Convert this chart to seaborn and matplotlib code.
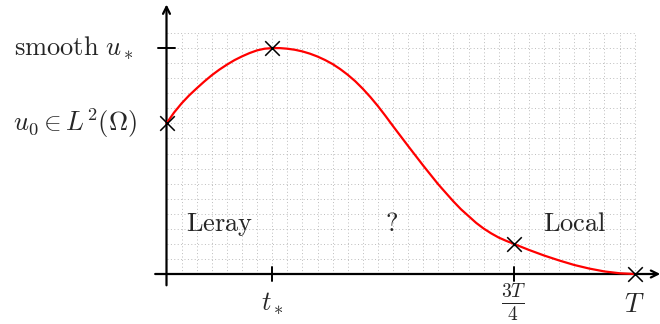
import matplotlib
matplotlib.use("Agg")
import matplotlib.pyplot as plt
import numpy as np
import pandas as pd
import seaborn as sns

sns.set_style("white")
plt.rcParams["mathtext.fontset"] = "cm"
plt.rcParams["font.family"] = ["DejaVu Serif"]

# ---------------------------------------------------------------------------
# Data (grid units)
# ---------------------------------------------------------------------------
curve_t = [0, 0.5, 1, 1.5, 2, 2.5, 3, 3.5, 4, 4.5, 5, 5.5, 6, 6.5, 7,
           7.5, 8, 8.5, 9, 9.5, 10, 10.5, 11, 11.5, 12, 12.5, 13, 13.5,
           14, 14.5, 15, 16, 17, 18, 19, 19.5, 20, 20.5, 21, 21.5, 22, 22.5, 23,
           24, 25, 26, 27, 28, 29, 30, 31]
curve_u = [10.0, 10.72, 11.33, 11.86, 12.33, 12.78, 13.2, 13.57, 13.9, 14.2,
           14.45, 14.67, 14.85, 14.96, 15.0,
           15.0, 14.96, 14.89, 14.78, 14.63, 14.44, 14.21, 13.94, 13.61, 13.23,
           12.8, 12.3, 11.75,
           11.15, 10.5, 9.82, 8.5, 7.2, 5.95, 4.82, 4.3, 3.85, 3.4, 3.02, 2.7,
           2.42, 2.2, 2.0,
           1.6, 1.23, 0.9, 0.6, 0.36, 0.17, 0.05, 0.0]

mark_t = [0, 7, 23, 31]
mark_u = [10, 15, 2, 0]

xtick_pos = [7, 23, 31]
xtick_labels = [r"$t_*$", r"$\frac{3T}{4}$", r"$T$"]
ytick_pos = [15, 10]
ytick_labels = [r"$\mathrm{smooth}\ u_*$", r"$u_0 \in L^2(\Omega)$"]

region_x = [3.5, 14.9, 27.0]
region_labels = [r"$\mathrm{Leray}$", r"$?$", r"$\mathrm{Local}$"]

grid_x_max = 31
grid_y_max = 16

# ---------------------------------------------------------------------------
fig = plt.figure(figsize=(6.6, 3.24), dpi=100)
ax = fig.add_axes([0, 0, 1, 1])
sx, sy = 15.1, 15.06
xlim = (-166.5 / sx, (660 - 166.5) / sx)
ylim = ((274 - 324) / sy, 274 / sy)

# dotted grid
grid_kw = dict(color="#bcbcbc", lw=0.7, linestyle=(0, (1, 2.5)), zorder=1)
ax.vlines(np.arange(1, grid_x_max + 1), 0, grid_y_max, **grid_kw)
ax.hlines(np.arange(1, grid_y_max + 1), 0, grid_x_max, **grid_kw)

# axes with arrows
arrow_kw = dict(arrowstyle="->,head_length=0.5,head_width=0.25", color="black",
                lw=1.6, shrinkA=0, shrinkB=0)
ax.annotate("", xy=(32.7, 0), xytext=(-0.75, 0), arrowprops=arrow_kw, zorder=3)
ax.annotate("", xy=(0, 17.9), xytext=(0, -0.75), arrowprops=arrow_kw, zorder=3)

# ticks
for x in xtick_pos[:2]:
    ax.plot([x, x], [-0.45, 0.45], color="black", lw=1.4, zorder=3)
ax.plot([-0.55, 0.55], [ytick_pos[0], ytick_pos[0]], color="black", lw=1.4, zorder=3)

# curve and marks
df = pd.DataFrame({"t": curve_t, "u": curve_u})
sns.lineplot(data=df, x="t", y="u", ax=ax, color="red", lw=1.6, zorder=4,
             sort=False)
marks = pd.DataFrame({"t": mark_t, "u": mark_u})
sns.scatterplot(data=marks, x="t", y="u", ax=ax, marker="x", s=110,
                color="black", linewidth=1.1, zorder=5)
ax.set_xlim(*xlim)
ax.set_ylim(*ylim)
ax.axis("off")

# labels
fs = 19
ax.text(xtick_pos[0], -2.0, xtick_labels[0], ha="center", va="center", fontsize=fs)
ax.text(xtick_pos[1], -1.85, xtick_labels[1], ha="center", va="center", fontsize=20)
ax.text(xtick_pos[2], -2.0, xtick_labels[2], ha="center", va="center", fontsize=fs)
ax.text(-2.2, ytick_pos[0], ytick_labels[0], ha="right", va="center", fontsize=fs)
ax.text(-1.95, ytick_pos[1], ytick_labels[1], ha="right", va="center", fontsize=fs)
for x, lab in zip(region_x, region_labels):
    ax.text(x, 2.85, lab, ha="center", va="baseline", fontsize=fs)

fig.savefig("out.png", dpi=100)
